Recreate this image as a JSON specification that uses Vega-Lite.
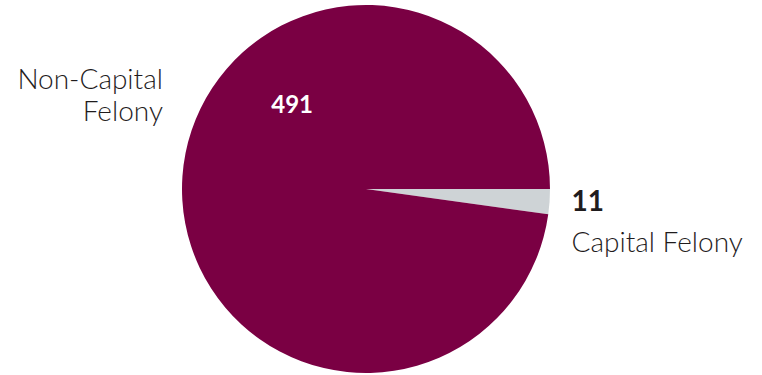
{
  "$schema": "https://vega.github.io/schema/vega-lite/v6.json",
  "width": 762,
  "height": 375,
  "autosize": {"type": "fit", "contains": "padding"},
  "padding": {"left": 0, "right": 30, "top": 3, "bottom": 0},
  "background": "white",
  "view": {"stroke": null},
  "data": {
    "values": [
      {"category": "Capital Felony", "count": 11, "order": 1, "label": "Capital Felony"},
      {"category": "Non-Capital Felony", "count": 491, "order": 2, "label": "Non-Capital\nFelony"}
    ]
  },
  "encoding": {
    "theta": {"field": "count", "type": "quantitative", "stack": true, "scale": {"range": [1.5708, 7.854]}},
    "order": {"field": "order", "type": "quantitative"}
  },
  "layer": [
    {
      "mark": {"type": "arc", "outerRadius": 184, "strokeWidth": 0},
      "encoding": {
        "color": {
          "field": "category",
          "type": "nominal",
          "scale": {"domain": ["Capital Felony", "Non-Capital Felony"], "range": ["#ced3d6", "#7a0043"]},
          "legend": null
        }
      }
    },
    {
      "mark": {"type": "text", "radius": 111, "thetaOffset": 0.774, "font": "Lato", "fontSize": 24, "fontWeight": "bold", "color": "white", "align": "center", "baseline": "middle"},
      "encoding": {
        "text": {"condition": {"test": "datum.category === 'Non-Capital Felony'", "field": "count", "type": "quantitative"}, "value": ""}
      }
    },
    {
      "mark": {"type": "text", "radius": 230, "thetaOffset": 0.42, "font": "Lato", "fontSize": 28, "fontWeight": 300, "color": "#1f1c1d", "align": "right", "baseline": "middle", "lineBreak": "\n", "lineHeight": 32},
      "encoding": {
        "text": {"condition": {"test": "datum.category === 'Non-Capital Felony'", "field": "label", "type": "nominal"}, "value": ""}
      }
    },
    {
      "mark": {"type": "text", "radius": 206, "font": "Lato", "fontSize": 28, "fontWeight": "bold", "color": "#1f1c1d", "align": "left", "baseline": "middle"},
      "encoding": {
        "text": {"condition": {"test": "datum.category === 'Capital Felony'", "field": "count", "type": "quantitative"}, "value": ""}
      }
    },
    {
      "mark": {"type": "text", "radius": 206, "dy": 41, "font": "Lato", "fontSize": 28, "fontWeight": 300, "color": "#1f1c1d", "align": "left", "baseline": "middle"},
      "encoding": {
        "text": {"condition": {"test": "datum.category === 'Capital Felony'", "field": "label", "type": "nominal"}, "value": ""}
      }
    }
  ]
}
